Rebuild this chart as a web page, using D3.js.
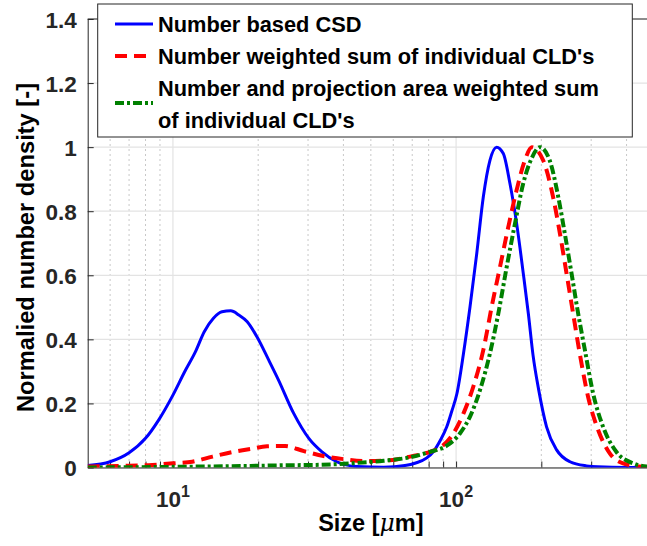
<!DOCTYPE html>
<html><head><meta charset="utf-8">
<script src="https://cdn.jsdelivr.net/npm/d3@7"></script>
<style>
html,body{margin:0;padding:0;background:#fff;}
svg{display:block;}
text{font-family:Arial,"Liberation Sans",Helvetica,sans-serif;}
</style></head>
<body>
<svg id="chart" width="647" height="546"></svg>
<script>
// ---------------- data ----------------
const blueX = [5.0, 6.0, 7.0, 8.0, 8.9, 10.0, 11.0, 12.0, 12.9, 13.9, 14.9, 16.0, 17.1, 18.3, 19.8, 21.8, 23.6, 26.7, 30.2, 33.6, 37.9, 44.7, 55.5, 66, 72, 78.8, 83.2, 88, 92.7, 96.5, 100.7, 106.2, 112, 118.3, 124.8, 131.7, 139, 146.8, 154.9, 163.6, 172.7, 180, 187, 196, 208.7, 226.5, 252.4, 289, 316, 400, 500];
const blueY = [0.006, 0.018, 0.046, 0.091, 0.148, 0.226, 0.299, 0.361, 0.424, 0.466, 0.486, 0.489, 0.476, 0.455, 0.408, 0.335, 0.273, 0.169, 0.091, 0.049, 0.018, 0.003, 0.001, 0.006, 0.014, 0.03, 0.05, 0.085, 0.127, 0.175, 0.231, 0.356, 0.502, 0.668, 0.845, 0.959, 1.0, 0.98, 0.887, 0.762, 0.606, 0.48, 0.35, 0.24, 0.127, 0.055, 0.018, 0.005, 0.002, 0.0, 0.0];

const redX = [5.0, 6.45, 8.46, 10.0, 11.7, 13.8, 16.2, 18.8, 21.5, 24.9, 29.0, 34.0, 40.1, 48.4, 58.5, 68.8, 80.9, 87.8, 97.9, 106.2, 115, 124.8, 133.6, 143, 152.9, 163.6, 175, 185, 203, 220, 232.6, 245.5, 259, 273.3, 292.5, 317.5, 349, 389, 446, 500];
const redY = [0.003, 0.005, 0.008, 0.013, 0.018, 0.034, 0.048, 0.058, 0.066, 0.067, 0.051, 0.036, 0.026, 0.020, 0.023, 0.034, 0.049, 0.062, 0.107, 0.169, 0.252, 0.367, 0.502, 0.627, 0.751, 0.866, 0.959, 1.0, 0.959, 0.845, 0.731, 0.606, 0.481, 0.356, 0.221, 0.117, 0.044, 0.013, 0.003, 0.001];

const greenX = [5.0, 10.0, 18.8, 24.9, 32, 42.3, 55.5, 68.8, 80.9, 92.7, 103.3, 112, 121.5, 131.7, 141, 151, 161.5, 172.7, 184.8, 197.7, 214, 229.5, 242, 255.7, 269.8, 285, 304.8, 330.5, 368, 421.7, 470, 500];
const greenY = [0.0, 0.002, 0.005, 0.007, 0.008, 0.013, 0.021, 0.032, 0.049, 0.068, 0.107, 0.159, 0.242, 0.356, 0.481, 0.627, 0.762, 0.887, 0.965, 1.0, 0.959, 0.845, 0.731, 0.606, 0.481, 0.367, 0.231, 0.127, 0.049, 0.013, 0.003, 0.002];

const legendLabels = ["Number based CSD", "Number weighted sum of individual CLD's", ["Number and projection area weighted sum", "of individual CLD's"]];
const yTicks = [0, 0.2, 0.4, 0.6, 0.8, 1, 1.2, 1.4];
const yTickLabels = ["0", "0.2", "0.4", "0.6", "0.8", "1", "1.2", "1.4"];
const xMajorTicks = [10, 100];
const xMajorExp = ["1", "2"];
const xMinorTicks = [6, 7, 8, 9, 20, 30, 40, 50, 60, 70, 80, 90, 200, 300, 400];
const xDomain = [5, 500];
const yDomain = [0, 1.4];

// ---------------- layout ----------------
const svg = d3.select("#chart");
const L = 87.7, R = 654, T = 19, B = 467.5;
const x = d3.scaleLog().domain(xDomain).range([L, R]);
const y = d3.scaleLinear().domain(yDomain).range([B, T]);
const axisCol = "#262626";

// grid
const g = svg.append("g");
g.selectAll(".minor").data(xMinorTicks).enter().append("line")
  .attr("x1", d => x(d)).attr("x2", d => x(d)).attr("y1", T).attr("y2", B)
  .attr("stroke", "#c8c8c8").attr("stroke-width", 1).attr("stroke-dasharray", "2,3");
g.selectAll(".majx").data(xMajorTicks).enter().append("line")
  .attr("x1", d => x(d)).attr("x2", d => x(d)).attr("y1", T).attr("y2", B)
  .attr("stroke", "#e3e3e3").attr("stroke-width", 1.2);
g.selectAll(".majy").data(yTicks).enter().append("line")
  .attr("x1", L).attr("x2", R).attr("y1", d => y(d)).attr("y2", d => y(d))
  .attr("stroke", "#e3e3e3").attr("stroke-width", 1.2);

// axes
const yAxis = d3.axisLeft(y).tickValues(yTicks).tickSizeInner(-6).tickSizeOuter(0)
  .tickPadding(11).tickFormat((d, i) => yTickLabels[i]);
const ya = svg.append("g").attr("transform", `translate(${L},0)`).call(yAxis);
ya.select(".domain").attr("stroke", axisCol);
ya.selectAll(".tick line").attr("stroke", axisCol);
ya.selectAll(".tick text").attr("fill", axisCol).attr("font-size", 22.5).attr("font-weight", "bold").attr("dy", "0.36em");

const xAxis = d3.axisBottom(x).tickValues(xMajorTicks.concat(xMinorTicks)).tickSizeInner(-6).tickSizeOuter(0).tickFormat("");
const xa = svg.append("g").attr("transform", `translate(0,${B})`).call(xAxis);
xa.select(".domain").attr("stroke", axisCol);
xa.selectAll(".tick line").attr("stroke", axisCol);
// top / right box
svg.append("line").attr("x1", L).attr("x2", R).attr("y1", T).attr("y2", T).attr("stroke", axisCol);
svg.append("line").attr("x1", R).attr("x2", R).attr("y1", T).attr("y2", B).attr("stroke", axisCol);

// x major labels 10^n
xMajorTicks.forEach((v, i) => {
  const t = svg.append("text").attr("y", 507).attr("fill", axisCol).attr("font-weight", "bold")
    .attr("font-size", 22.5).attr("text-anchor", "middle").attr("x", x(v));
  t.append("tspan").text("10");
  t.append("tspan").attr("dy", -10).attr("font-size", 16).text(xMajorExp[i]);
});

// axis titles
const xt = svg.append("text").attr("x", (L + R) / 2).attr("y", 531).attr("text-anchor", "middle")
  .attr("font-size", 23.5).attr("font-weight", "bold").attr("fill", "#000");
xt.append("tspan").text("Size [");
xt.append("tspan").attr("font-style", "italic").attr("font-family", "'DejaVu Serif','Liberation Serif',serif").attr("font-weight", "normal").text("\u03bc");
xt.append("tspan").text("m]");

svg.append("text").attr("transform", `translate(33.5,247.5) rotate(-90)`).attr("text-anchor", "middle")
  .attr("font-size", 23.7).attr("font-weight", "bold").attr("fill", "#000").text("Normalied number density [-]");

// curves
svg.append("clipPath").attr("id", "clip").append("rect").attr("x", L).attr("y", T).attr("width", R - L).attr("height", B - T);
const line = d3.line().x(d => x(d[0])).y(d => y(d[1])).curve(d3.curveMonotoneX);
const cg = svg.append("g").attr("clip-path", "url(#clip)");
const series = [
  {xs: blueX, ys: blueY, color: "#0000ff", w: 3, dash: null},
  {xs: redX, ys: redY, color: "#ff0000", w: 4, dash: "12,7"},
  {xs: greenX, ys: greenY, color: "#008000", w: 4, dash: "9,3,3,3"}
];
series.forEach(s => {
  cg.append("path").datum(s.xs.map((v, i) => [v, s.ys[i]])).attr("d", line)
    .attr("fill", "none").attr("stroke", s.color).attr("stroke-width", s.w)
    .attr("stroke-dasharray", s.dash).attr("stroke-linejoin", "round");
});

// legend
const lg = svg.append("g");
lg.append("rect").attr("x", 97.7).attr("y", 4).attr("width", 534.6).attr("height", 133)
  .attr("fill", "#fff").attr("stroke", axisCol).attr("stroke-width", 1);
const rowsY = [24, 56, 103];
series.forEach((s, i) => {
  lg.append("line").attr("x1", 115).attr("x2", 153).attr("y1", rowsY[i]).attr("y2", rowsY[i])
    .attr("stroke", s.color).attr("stroke-width", s.w).attr("stroke-dasharray", s.dash);
});
const txtStyle = t => t.attr("font-size", 21.8).attr("font-weight", "bold").attr("fill", "#000").attr("dy", "0.36em");
txtStyle(lg.append("text").attr("x", 158).attr("y", 24).text(legendLabels[0]));
txtStyle(lg.append("text").attr("x", 158).attr("y", 56).text(legendLabels[1]));
txtStyle(lg.append("text").attr("x", 158).attr("y", 88).text(legendLabels[2][0]));
txtStyle(lg.append("text").attr("x", 158).attr("y", 120).text(legendLabels[2][1]));
</script>
</body></html>
